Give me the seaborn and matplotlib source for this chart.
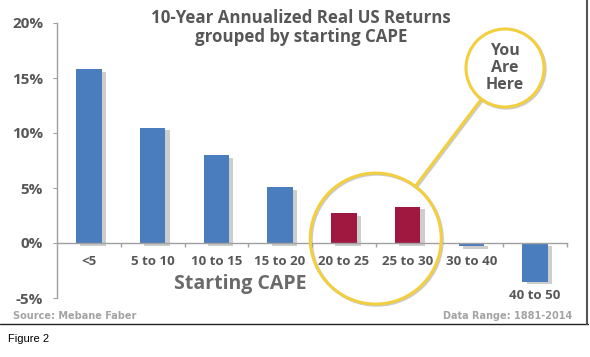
import matplotlib
matplotlib.use('Agg')
import matplotlib.pyplot as plt
import matplotlib.patheffects as pe
from matplotlib.patches import Ellipse
from matplotlib.lines import Line2D
import seaborn as sns
import pandas as pd
import numpy as np

# ---- data ----
categories = ['<5', '5 to 10', '10 to 15', '15 to 20', '20 to 25', '25 to 30', '30 to 40', '40 to 50']
returns = [15.8, 10.5, 8.0, 5.1, 2.7, 3.3, -0.3, -3.5]
highlight = [False, False, False, False, True, True, False, False]
yticks = [-5, 0, 5, 10, 15, 20]
ytick_labels = ['-5%', '0%', '5%', '10%', '15%', '20%']
title_lines = ['10-Year Annualized Real US Returns', 'grouped by starting CAPE']
xlabel = 'Starting CAPE'
callout = 'You\nAre\nHere'
source = 'Source: Mebane Faber'
data_range = 'Data Range: 1881-2014'
caption = 'Figure 2'

# ---- style ----
sns.set_style('white')
plt.rcParams['font.family'] = ['Open Sans', 'DejaVu Sans']

BLUE = '#4a7dbd'
RED = '#a0173f'
YELLOW = '#f3cf3f'
TXT = '#575757'
AX = '#a0a0a0'

W, H = 590, 357
fig = plt.figure(figsize=(W / 100, H / 100), dpi=100)
ax = fig.add_axes([57 / W, 1 - 298 / H, 510 / W, 275 / H])

df = pd.DataFrame({'cape': categories, 'ret': returns,
                   'group': ['here' if h else 'other' for h in highlight]})
sns.barplot(data=df, x='cape', y='ret', hue='group', order=categories,
            palette={'other': BLUE, 'here': RED}, width=0.4, dodge=False,
            legend=False, saturation=1, ax=ax)

for p in ax.patches:
    p.set_edgecolor('none')
    p.set_path_effects([pe.SimplePatchShadow(offset=(3, -2), shadow_rgbFace='#cdcdcd', alpha=1.0),
                        pe.Normal()])

ax.set_xlim(-0.5, len(categories) - 0.5)
ax.set_ylim(yticks[0], yticks[-1])
ax.set_xlabel('')
ax.set_ylabel('')

for s in ['top', 'right']:
    ax.spines[s].set_visible(False)
ax.spines['bottom'].set_position(('data', 0))
ax.spines['bottom'].set_color(AX)
ax.spines['left'].set_color(AX)
ax.spines['bottom'].set_linewidth(1.0)
ax.spines['left'].set_linewidth(1.0)

ax.set_yticks(yticks)
ax.set_yticklabels(ytick_labels)
ax.tick_params(axis='y', which='major', left=True, direction='out', length=3,
               color=AX, labelsize=11, labelcolor=TXT, pad=7)
for t in ax.get_yticklabels():
    t.set_fontweight('bold')

ax.set_xticks(range(len(categories)))
ax.set_xticklabels([''] * len(categories))
ax.set_xticks(np.arange(len(categories)) + 0.5, minor=True)
ax.tick_params(axis='x', which='major', bottom=False, length=0)
ax.tick_params(axis='x', which='minor', bottom=True, direction='out', length=3,
               color=AX, width=1)

# category labels
for i, (c, v) in enumerate(zip(categories, returns)):
    if v < -1:
        ax.annotate(c, xy=(i, v), xytext=(0, -10), textcoords='offset points',
                    ha='center', va='center', fontsize=9.5, fontweight='bold', color=TXT)
    else:
        ax.annotate(c, xy=(i, 0), xytext=(0, -13), textcoords='offset points',
                    ha='center', va='center', fontsize=9.5, fontweight='bold', color=TXT)

# title
fig.text(301 / W, 1 - 18 / H, title_lines[0], ha='center', va='center',
         fontsize=12.2, fontweight='bold', color=TXT)
fig.text(301 / W, 1 - 37 / H, title_lines[1], ha='center', va='center',
         fontsize=12.2, fontweight='bold', color=TXT)

# x label
fig.text(240 / W, 1 - 284 / H, xlabel, ha='center', va='center',
         fontsize=14, fontweight='bold', color='#6a6a6a')

# big highlight circle around the two highlighted categories
idx = [i for i, h in enumerate(highlight) if h]
cx_data = float(np.mean(idx))
fig.canvas.draw()
cpx, cpy = ax.transData.transform((cx_data, 0.4))
R_big = 65.5
circ_shadow = [pe.SimpleLineShadow(offset=(0.8, -0.8), shadow_color='#999999', alpha=0.5), pe.Normal()]
big = Ellipse((cpx / W, cpy / H), 2 * R_big / W, 2 * R_big / H, transform=fig.transFigure,
              facecolor='none', edgecolor=YELLOW, lw=2.2, zorder=5)
big.set_path_effects(circ_shadow)
fig.add_artist(big)

# callout bubble
bx, by = 505, H - 68
R_small = 39
dx, dy = bx - cpx, by - cpy
d = np.hypot(dx, dy)
ux, uy = dx / d, dy / d
x0, y0 = cpx + ux * R_big, cpy + uy * R_big
x1, y1 = bx - ux * R_small, by - uy * R_small
ln = Line2D([x0 / W, x1 / W], [y0 / H, y1 / H], transform=fig.transFigure,
            color=YELLOW, lw=2.2, zorder=4)
ln.set_path_effects(circ_shadow)
fig.add_artist(ln)
small = Ellipse((bx / W, by / H), 2 * R_small / W, 2 * R_small / H, transform=fig.transFigure,
                facecolor='white', edgecolor=YELLOW, lw=2.2, zorder=6)
small.set_path_effects(circ_shadow)
fig.add_artist(small)
fig.text(bx / W, by / H, callout, ha='center', va='center', fontsize=11.5,
         fontweight='bold', color=TXT, linespacing=1.1, zorder=7)

# source texts
fig.text(13 / W, 1 - 316 / H, source, ha='left', va='center', fontsize=7,
         fontweight='bold', color='#a3a3a3', family=['DejaVu Sans'])
fig.text(572 / W, 1 - 316 / H, data_range, ha='right', va='center', fontsize=7,
         fontweight='bold', color='#a3a3a3', family=['DejaVu Sans'])

# frame lines
fig.add_artist(Line2D([0, 588 / W], [1 - 323.5 / H, 1 - 323.5 / H], transform=fig.transFigure,
                      color='#222222', lw=1.0))
fig.add_artist(Line2D([587 / W, 587 / W], [1 - 323.5 / H, 1], transform=fig.transFigure,
                      color='#555555', lw=1.5))

fig.text(8 / W, 1 - 339 / H, caption, ha='left', va='center', fontsize=8,
         color='black', family=['Liberation Sans'])

fig.savefig('out.png', dpi=100)
